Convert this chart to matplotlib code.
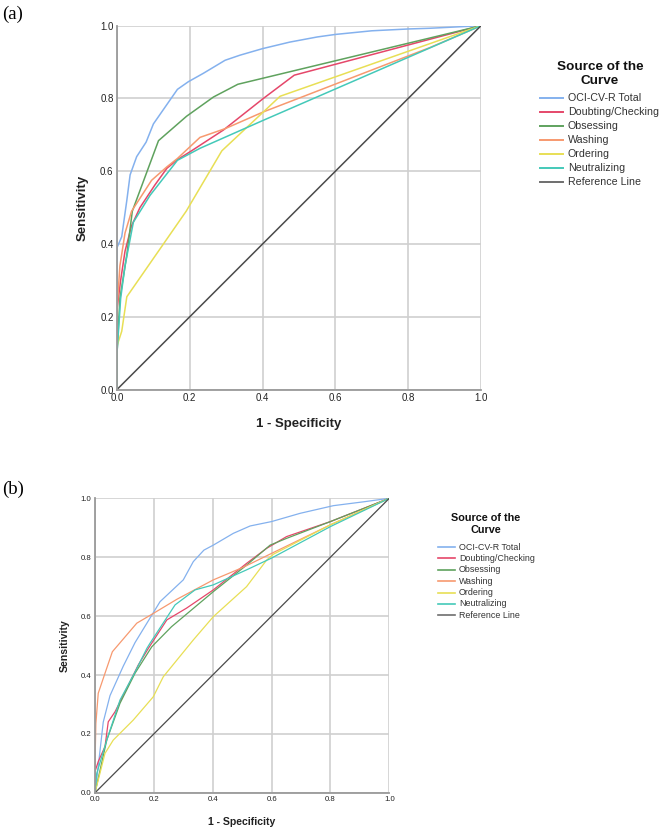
import matplotlib
matplotlib.use("Agg")
import matplotlib.pyplot as plt
from matplotlib.lines import Line2D

plt.rcParams['font.family'] = ['Liberation Sans', 'DejaVu Sans']

labels = ["OCI-CV-R Total", "Doubting/Checking", "Obsessing", "Washing",
          "Ordering", "Neutralizing", "Reference Line"]
colors = ["#84B1EE", "#E5476A", "#5FA25E", "#F7996F", "#E8DF55", "#44C9B9", "#4A4A4A"]
ticks = [0.0, 0.2, 0.4, 0.6, 0.8, 1.0]

# panel (a): (1 - specificity, sensitivity) points
a_total_x = [0, 0, 0.013, 0.027, 0.036, 0.054, 0.08, 0.10, 0.166, 0.196, 0.237, 0.297, 0.338, 0.40, 0.475, 0.55, 0.60, 0.70, 0.80, 0.86, 1]
a_total_y = [0, 0.39, 0.42, 0.52, 0.59, 0.64, 0.68, 0.73, 0.825, 0.846, 0.869, 0.905, 0.919, 0.937, 0.955, 0.969, 0.976, 0.986, 0.991, 0.993, 1]
a_doubt_x = [0, 0, 0.01, 0.022, 0.04, 0.063, 0.104, 0.137, 0.166, 0.20, 0.292, 0.402, 0.487, 1]
a_doubt_y = [0, 0.22, 0.30, 0.38, 0.45, 0.50, 0.562, 0.608, 0.632, 0.653, 0.713, 0.80, 0.864, 1]
a_obs_x = [0, 0, 0.008, 0.027, 0.042, 0.114, 0.191, 0.265, 0.332, 1]
a_obs_y = [0, 0.10, 0.25, 0.37, 0.49, 0.684, 0.751, 0.804, 0.839, 1]
a_wash_x = [0, 0, 0.008, 0.022, 0.04, 0.095, 0.137, 0.166, 0.228, 0.297, 0.402, 0.86, 1]
a_wash_y = [0, 0.22, 0.34, 0.43, 0.49, 0.575, 0.612, 0.635, 0.693, 0.717, 0.763, 0.94, 1]
a_ord_x = [0, 0, 0.013, 0.027, 0.19, 0.288, 0.448, 1]
a_ord_y = [0, 0.12, 0.16, 0.255, 0.49, 0.656, 0.806, 1]
a_neu_x = [0, 0, 0.01, 0.022, 0.045, 0.091, 0.166, 0.228, 0.402, 1]
a_neu_y = [0, 0.10, 0.25, 0.34, 0.46, 0.534, 0.63, 0.663, 0.74, 1]

# panel (b)
b_total_x = [0, 0.011, 0.028, 0.051, 0.096, 0.136, 0.221, 0.30, 0.334, 0.37, 0.402, 0.47, 0.527, 0.60, 0.697, 0.81, 0.912, 1]
b_total_y = [0, 0.09, 0.24, 0.33, 0.43, 0.51, 0.649, 0.723, 0.785, 0.824, 0.841, 0.881, 0.906, 0.921, 0.949, 0.975, 0.988, 1]
b_doubt_x = [0, 0, 0.011, 0.034, 0.045, 0.068, 0.102, 0.147, 0.181, 0.244, 0.311, 0.402, 0.515, 0.583, 0.651, 0.80, 1]
b_doubt_y = [0, 0.072, 0.106, 0.157, 0.241, 0.275, 0.343, 0.434, 0.49, 0.587, 0.627, 0.689, 0.779, 0.83, 0.87, 0.921, 1]
b_obs_x = [0, 0.04, 0.085, 0.136, 0.193, 0.26, 0.402, 0.515, 0.595, 0.651, 0.80, 1]
b_obs_y = [0, 0.179, 0.304, 0.406, 0.496, 0.564, 0.683, 0.773, 0.841, 0.864, 0.921, 1]
b_wash_x = [0, 0, 0.003, 0.011, 0.034, 0.059, 0.142, 0.198, 0.278, 0.402, 0.504, 0.60, 0.80, 1]
b_wash_y = [0, 0.10, 0.236, 0.338, 0.406, 0.479, 0.576, 0.609, 0.657, 0.723, 0.766, 0.813, 0.91, 1]
b_ord_x = [0, 0.034, 0.062, 0.13, 0.198, 0.232, 0.334, 0.402, 0.515, 0.583, 0.606, 0.80, 1]
b_ord_y = [0, 0.134, 0.179, 0.247, 0.326, 0.394, 0.519, 0.598, 0.70, 0.79, 0.81, 0.91, 1]
b_neu_x = [0, 0.006, 0.04, 0.085, 0.136, 0.176, 0.187, 0.272, 0.34, 0.402, 0.515, 0.60, 0.80, 1]
b_neu_y = [0, 0.066, 0.179, 0.315, 0.41, 0.49, 0.508, 0.638, 0.689, 0.706, 0.757, 0.797, 0.904, 1]

ref_x = [0, 1]
ref_y = [0, 1]

panel_a = [(a_total_x, a_total_y), (a_doubt_x, a_doubt_y), (a_obs_x, a_obs_y),
           (a_wash_x, a_wash_y), (a_ord_x, a_ord_y), (a_neu_x, a_neu_y), (ref_x, ref_y)]
panel_b = [(b_total_x, b_total_y), (b_doubt_x, b_doubt_y), (b_obs_x, b_obs_y),
           (b_wash_x, b_wash_y), (b_ord_x, b_ord_y), (b_neu_x, b_neu_y), (ref_x, ref_y)]

W, H = 662, 831
fig = plt.figure(figsize=(W / 100, H / 100), dpi=100)


def px_axes(left, top, right, bottom):
    return fig.add_axes([left / W, 1 - bottom / H, (right - left) / W, (bottom - top) / H])


def draw_panel(ax, curves, lw, tick_fs, label_fs, xlab_y, ylab_x):
    for (x, y), c, lab in zip(curves, colors, labels):
        ax.plot(x, y, color=c, lw=lw, label=lab, solid_joinstyle='round')
    ax.set_xlim(0, 1)
    ax.set_ylim(0, 1)
    ax.set_xticks(ticks)
    ax.set_yticks(ticks)
    ax.set_xticklabels([f"{t:.1f}" for t in ticks])
    ax.set_yticklabels([f"{t:.1f}" for t in ticks])
    ax.grid(True, color="#CFCFCF", lw=1.2)
    ax.set_axisbelow(True)
    ax.tick_params(length=0, labelsize=tick_fs, colors="#222222", pad=2.5)
    for s in ["top", "right"]:
        ax.spines[s].set_visible(False)
    for s in ["left", "bottom"]:
        ax.spines[s].set_color("#9A9A9A")
        ax.spines[s].set_linewidth(1.3)
    ax.set_xlabel("1 - Specificity", fontsize=label_fs, fontweight="bold", color="#222222")
    ax.set_ylabel("Sensitivity", fontsize=label_fs, fontweight="bold", color="#222222")
    ax.xaxis.set_label_coords(0.5, xlab_y)
    ax.yaxis.set_label_coords(ylab_x, 0.5)
    ax.xaxis.label.set_va("center")
    ax.yaxis.label.set_va("center")


def draw_legend(ax, x0, x1, xt, title_x, ytitle, y0, dy, title_fs, fs, lw):
    fig.text(title_x / W, 1 - ytitle / H, "Source of the\nCurve", fontsize=title_fs,
             fontweight="bold", ha="center", va="center", multialignment="center",
             linespacing=1.2, color="#111111")
    for i, ln in enumerate(ax.get_lines()):
        y = 1 - (y0 + i * dy) / H
        c = ln.get_color() if i < 6 else "#6E6E6E"
        fig.add_artist(Line2D([x0 / W, x1 / W], [y, y], color=c, lw=lw, transform=fig.transFigure))
        fig.text(xt / W, y, ln.get_label(), fontsize=fs, va="center", ha="left", color="#333333")


ax_a = px_axes(117, 25.7, 481, 389.5)
draw_panel(ax_a, panel_a, 1.1, 7, 9.5, -0.095, -0.093)
draw_legend(ax_a, 540, 563, 568, 600, 74, 98.3, 14.0, 9.7, 7.7, 1.4)

ax_b = px_axes(95, 498.3, 389.3, 792.8)
draw_panel(ax_b, panel_b, 0.9, 5.6, 7.6, -0.098, -0.102)
draw_legend(ax_b, 438, 455, 459, 486, 524, 547, 11.4, 7.8, 6.4, 1.2)

fig.text(2 / W, 1 - 14 / H, "(a)", fontsize=13.5, family="Liberation Serif", va="center", ha="left")
fig.text(2 / W, 1 - 489 / H, "(b)", fontsize=13.5, family="Liberation Serif", va="center", ha="left")

fig.savefig("out.png", dpi=100)
